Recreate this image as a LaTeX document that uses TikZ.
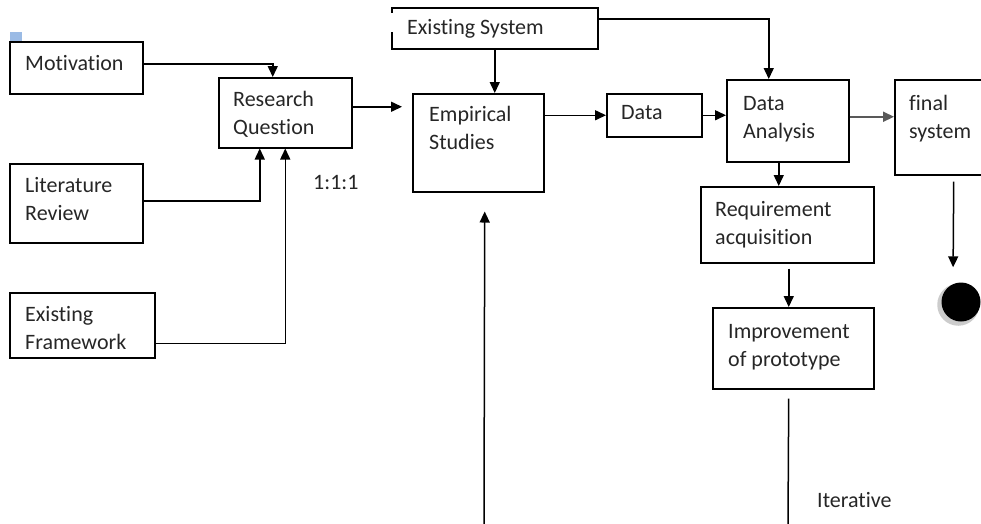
\documentclass[tikz,border=0pt]{standalone}
\usepackage{fontspec}
\setmainfont{Carlito}[Ligatures=NoCommon]
\usetikzlibrary{arrows.meta}
\usetikzlibrary{shadows}
\definecolor{markblue}{RGB}{155,187,229}

\begin{document}
\begin{tikzpicture}[
      x=1pt,y=-1pt,
      block/.style={draw,rectangle,line width=1.5pt,anchor=north west,inner sep=0pt},
      blocktext/.style={anchor=north west,inner sep=0pt,align=left,text=black!85,font=\fontsize{22}{28.5}\selectfont},
      note/.style={anchor=base west,inner sep=0pt,text=black!85,font=\fontsize{22}{28.5}\selectfont},
      arrow/.style={line width=1.5pt,-{Triangle[length=11pt,width=10pt]}}]
      \useasboundingbox (0,0) rectangle (981,523);

      % Marker
      \fill[markblue] (10,32) rectangle (22,41);

      % Blocks
      \node[block,minimum width=133pt,minimum height=52pt] (motivation) at (9,41)  {};
      \node[block,minimum width=133pt,minimum height=70pt] (question)   at (218,77) {};
      \node[block,minimum width=133pt,minimum height=79pt] (literature) at (9,163) {};
      \node[block,minimum width=145pt,minimum height=65pt] (framework)  at (9,292) {};
      \node[block,minimum width=206pt,minimum height=41pt] (existing)   at (391,7)  {};
      \node[block,minimum width=131pt,minimum height=98pt] (empirical)  at (412,93) {};
      \node[block,minimum width=95pt,minimum height=43pt]  (data)       at (606,93) {};
      \node[block,minimum width=122pt,minimum height=82pt] (analysis)   at (726,79) {};
      \node[block,minimum width=100pt,minimum height=95pt] (final)      at (894,79) {};
      \node[block,minimum width=173pt,minimum height=76pt] (requirement) at (700,186) {};
      \node[block,minimum width=161pt,minimum height=81pt] (improvement) at (712,307) {};
      \node[circle,fill=black,minimum size=39pt,inner sep=0pt,
            drop shadow={shadow xshift=-2.5pt,shadow yshift=-2.5pt,shadow scale=1.08,fill=gray!40,opacity=1}] (finish) at (961,302) {};

      % gap in the left side of the top block
      \draw[white,line width=3pt] ([yshift=-6pt]existing.north west) -- ([yshift=-25pt]existing.north west);

      % Texts
      \node[blocktext] (motivationtext)  at ([shift={(16pt,-9pt)}]motivation.north west)  {\strut Motivation};
      \node[blocktext] (questiontext)    at ([shift={(15pt,-9pt)}]question.north west)    {\strut Research\\Question};
      \node[blocktext] (literaturetext)  at ([shift={(16pt,-9pt)}]literature.north west)  {\strut Literature\\Review};
      \node[blocktext] (frameworktext)   at ([shift={(16pt,-9pt)}]framework.north west)   {\strut Existing\\Framework};
      \node[blocktext] (existingtext)    at ([shift={(16pt,-7pt)}]existing.north west)    {\strut Existing System};
      \node[blocktext] (empiricaltext)   at ([shift={(17pt,-8pt)}]empirical.north west)   {\strut Empirical\\Studies};
      \node[blocktext] (datatext)        at ([shift={(15pt,-6pt)}]data.north west)        {\strut Data};
      \node[blocktext] (analysistext)    at ([shift={(17pt,-11pt)}]analysis.north west)   {\strut Data\\Analysis};
      \node[blocktext] (finaltext)       at ([shift={(15pt,-11pt)}]final.north west)      {\strut final\\system};
      \node[blocktext] (requirementtext) at ([shift={(15pt,-10pt)}]requirement.north west) {\strut Requirement\\acquisition};
      \node[blocktext] (improvementtext) at ([shift={(16pt,-11pt)}]improvement.north west) {\strut Improvement\\of prototype};
      \node[note] (ratio)     at (313,189) {1:1:1};
      \node[note] (iterative) at (817,507) {Iterative};

      % Free ends
      \coordinate (loopend)   at (788,524);
      \coordinate (loopstart) at (484,524);

      % Arrows
      \draw[arrow] ([yshift=4pt]motivation.east) -| ([xshift=-12.5pt]question.north);
      \draw[arrow] ([yshift=2.5pt]literature.east) -| ([xshift=-25.5pt]question.south);
      \draw[arrow] ([yshift=-18pt]framework.east) -| (question.south);
      \draw[arrow,shorten >=10pt] ([yshift=6pt]question.east) -- ([yshift=36pt]empirical.west);
      \draw[arrow] (existing.south) -- (existing.south |- empirical.north);
      \draw[arrow] ([yshift=9.5pt]existing.east) -| ([xshift=-19pt]analysis.north);
      \draw[arrow] (empirical.east |- data.west) -- (data.west);
      \draw[arrow] (data.east) -- (data.east -| analysis.west);
      \draw[arrow,draw=black!65,line width=2pt] ([yshift=4pt]analysis.east) -- ([yshift=10.5pt]final.west);
      \draw[arrow,shorten <=6pt,shorten >=15pt] ([xshift=9pt]final.south) -- ([xshift=-8pt]finish.north);
      \draw[arrow] ([xshift=-9pt]analysis.south) -- ([xshift=-8.5pt]requirement.north);
      \draw[arrow,shorten <=5pt] ([xshift=1.5pt]requirement.south) -- ([xshift=-4.5pt]improvement.north);
      \draw[line width=1.5pt,shorten <=9pt] ([xshift=-4.5pt]improvement.south) -- (loopend);
      \draw[arrow,shorten >=19pt] (loopstart) -- ([xshift=6.5pt]empirical.south);

    \end{tikzpicture}
\end{document}
